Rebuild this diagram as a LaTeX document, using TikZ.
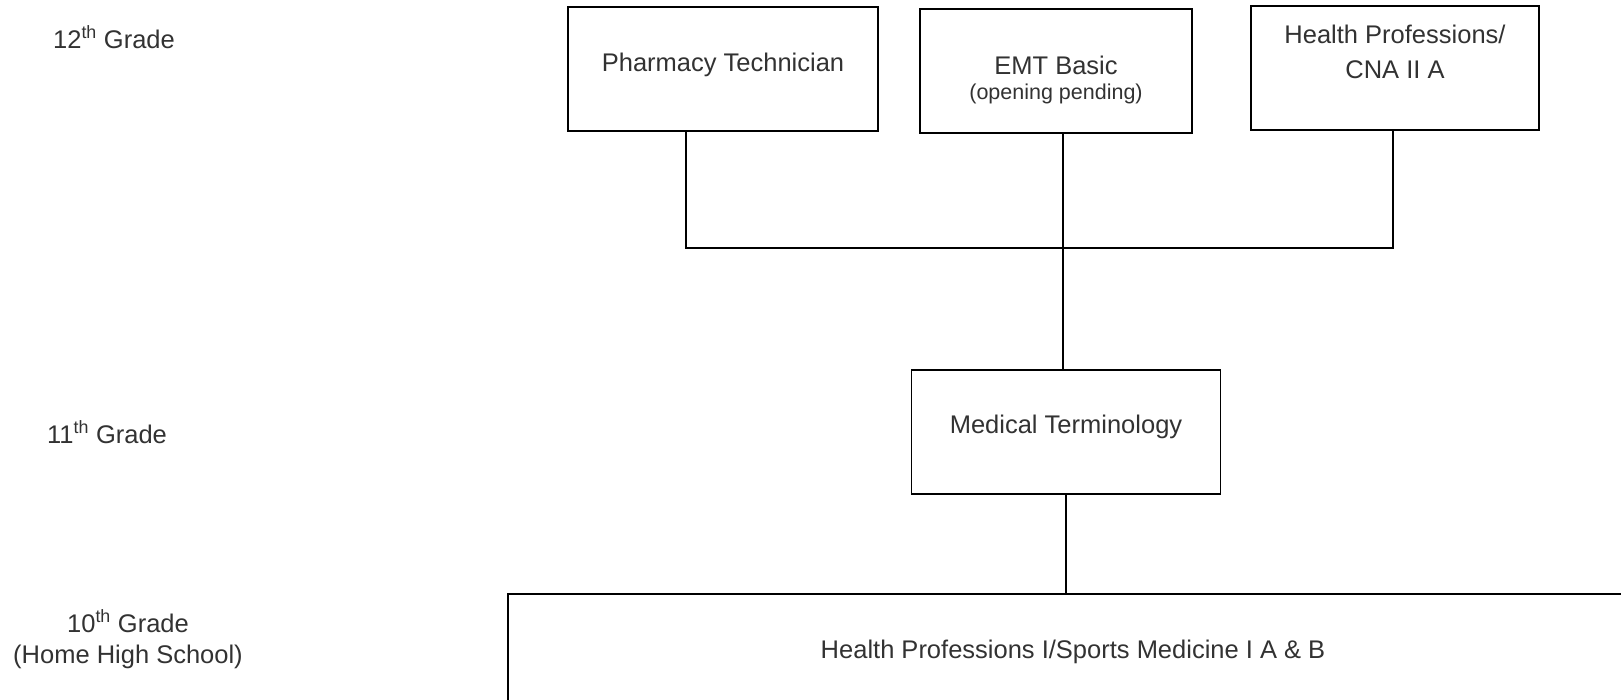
\documentclass[tikz,border=0pt]{standalone}
\usepackage{fontspec}
\setmainfont{Liberation Sans}
\usepackage{xcolor}
\usepackage{tikz}
\usetikzlibrary{positioning}
\definecolor{boxline}{RGB}{0, 0, 0}
\definecolor{textgray}{RGB}{50, 50, 50}

\begin{document}
\begin{tikzpicture}[x=1pt, y=-1pt, every node/.style={font=\fontsize{25.5}{35}\selectfont, text=textgray, inner sep=0pt}]
\tikzset{
  coursebox/.style={draw=boxline, line width=1.6pt, minimum height=124pt},
  link/.style={draw=boxline, line width=1.4pt},
  smalltext/.style={font=\fontsize{21.5}{26}\selectfont}
}
\clip (0,0) rectangle (1621,699);

% Grade labels
\node[anchor=base] (g12) at (114,48) {12\textsuperscript{th} Grade};
\node[anchor=base] (g11) at (107,443) {11\textsuperscript{th} Grade};
\node[anchor=base] (g10) at (128,632) {10\textsuperscript{th} Grade};
\node[anchor=base] (home) at (128,663) {(Home High School)};

% 12th grade courses
\node[coursebox, minimum width=310pt] at (723,69) (pharm) {};
\node[coursebox, minimum width=272pt] at (1056,71) (emt) {};
\node[coursebox, minimum width=288pt] at (1395,68) (hp) {};
\node[anchor=base] at ([yshift=-65pt]pharm.north) (pharmtxt) {Pharmacy Technician};
\node[anchor=base] at ([yshift=-66pt]emt.north) (emttxt) {EMT Basic};
\node[anchor=base, smalltext] at ([yshift=-91pt]emt.north) (emtnote) {(opening pending)};
\node[anchor=base] at ([yshift=-38pt]hp.north) (hptxt) {Health Professions/};
\node[anchor=base] at ([yshift=-73pt]hp.north) (cnatxt) {CNA II A};

% 11th grade course
\node[coursebox, minimum width=309pt] at (1066,432) (med) {};
\node[anchor=base] at ([yshift=-64pt]med.north) (medtxt) {Medical Terminology};

% 10th grade course
\node[coursebox, minimum width=1130pt, minimum height=110pt] at (1073,649) (base) {};
\node[anchor=base] at ([yshift=-65pt]base.north) (basetxt) {Health Professions I/Sports Medicine I A \& B};

% Connections
\coordinate (jl) at (686,248);
\coordinate (jr) at (1393,248);
\coordinate (trunk) at (1063,248);
\draw[link] (pharm.south -| jl) -- (jl) -- (jr) -- (hp.south -| jr);
\draw[link] (emt.south -| trunk) -- (med.north -| trunk);
\draw[link] (med.south) -- (med.south |- base.north);
\end{tikzpicture}
\end{document}
